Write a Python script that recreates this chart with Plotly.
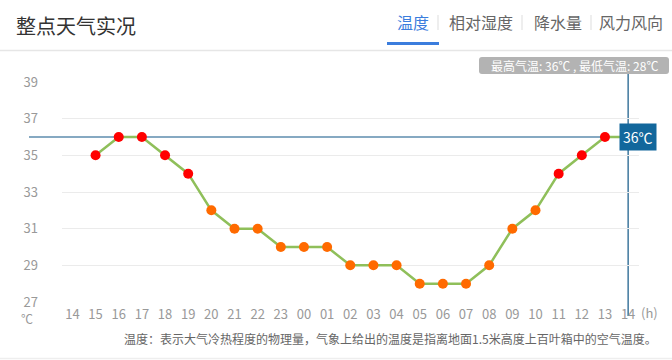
import plotly.graph_objects as go

# ---- data ----
hours = ["14", "15", "16", "17", "18", "19", "20", "21", "22", "23", "00", "01", "02",
         "03", "04", "05", "06", "07", "08", "09", "10", "11", "12", "13", "14"]
temps = [None, 35, 36, 36, 35, 34, 32, 31, 31, 30, 30, 30, 29,
         29, 29, 28, 28, 28, 29, 31, 32, 34, 35, 36, 36]
y_ticks = [27, 29, 31, 33, 35, 37, 39]
hover_index = 24
hover_temp = 36
max_temp, min_temp = 36, 28

W, H = 672, 360
L, R, T, B = 62, 33, 82, 58
PW, PH = W - L - R, H - T - B

def px(x):
    return (x - L) / PW

def py(y):
    return (H - B - y) / PH

FONT = "Noto Sans CJK SC, Microsoft YaHei, sans-serif"
x_idx = list(range(len(hours)))
colors = ["#ff0000" if (t is not None and t >= 33) else "#ff6a00" for t in temps]

fig = go.Figure()
fig.add_trace(go.Scatter(
    x=x_idx, y=temps, mode="lines+markers",
    line=dict(color="#8fbf5a", width=2.5),
    marker=dict(size=10, color=colors),
    cliponaxis=False, hoverinfo="skip", showlegend=False,
))

shapes = []
# header separator line
shapes.append(dict(type="line", xref="paper", yref="paper", x0=px(0), x1=px(W),
                   y0=py(50.5), y1=py(50.5), line=dict(color="#e6e6e6", width=1.5)))
# bottom line
shapes.append(dict(type="line", xref="paper", yref="paper", x0=px(0), x1=px(W),
                   y0=py(358.5), y1=py(358.5), line=dict(color="#eeeeee", width=1.5)))
# tab underline
shapes.append(dict(type="rect", xref="paper", yref="paper", x0=px(387), x1=px(439),
                   y0=py(45), y1=py(42), fillcolor="#3b7ddd", line=dict(width=0)))
# tab separators
for sx in [438, 522, 591]:
    shapes.append(dict(type="line", xref="paper", yref="paper", x0=px(sx), x1=px(sx),
                       y0=py(15), y1=py(30), line=dict(color="#dddddd", width=1)))
# rounded gray box for max/min
bx0, bx1, by0, by1, r = 479, 669, 57, 74, 3
path = (f"M {px(bx0 + r)} {py(by0)} L {px(bx1 - r)} {py(by0)} "
        f"Q {px(bx1)} {py(by0)} {px(bx1)} {py(by0 + r)} "
        f"L {px(bx1)} {py(by1 - r)} Q {px(bx1)} {py(by1)} {px(bx1 - r)} {py(by1)} "
        f"L {px(bx0 + r)} {py(by1)} Q {px(bx0)} {py(by1)} {px(bx0)} {py(by1 - r)} "
        f"L {px(bx0)} {py(by0 + r)} Q {px(bx0)} {py(by0)} {px(bx0 + r)} {py(by0)} Z")
shapes.append(dict(type="path", xref="paper", yref="paper", path=path,
                   fillcolor="#b3b3b3", line=dict(width=0)))
# crosshair (drawn beneath the series)
shapes.append(dict(type="line", xref="x", yref="paper", x0=hover_index, x1=hover_index,
                   y0=py(74), y1=py(316), layer="below",
                   line=dict(color="#0f5585", width=1.2)))
shapes.append(dict(type="line", xref="paper", yref="y", x0=px(29), x1=px(620),
                   y0=hover_temp, y1=hover_temp, layer="below",
                   line=dict(color="#0f5585", width=1.2)))

annotations = []
annotations.append(dict(text="整点天气实况", xref="paper", yref="paper", x=px(14), y=py(25),
                        xanchor="left", yanchor="middle", showarrow=False,
                        font=dict(family=FONT, size=20, color="#333333")))
for txt, cx, col in [("温度", 413, "#3b7ddd"), ("相对湿度", 480.5, "#666666"),
                     ("降水量", 557.5, "#666666"), ("风力风向", 631, "#666666")]:
    annotations.append(dict(text=txt, xref="paper", yref="paper", x=px(cx), y=py(21.5),
                            xanchor="center", yanchor="middle", showarrow=False,
                            font=dict(family=FONT, size=16, color=col)))
annotations.append(dict(text=f"最高气温: {max_temp}℃ , 最低气温: {min_temp}℃",
                        xref="paper", yref="paper", x=px((bx0 + bx1) / 2), y=py(65.5),
                        xanchor="center", yanchor="middle", showarrow=False,
                        font=dict(family=FONT, size=12, color="#ffffff")))
annotations.append(dict(text=f"{hover_temp}℃", xref="paper", yref="y", x=px(619), y=hover_temp,
                        xanchor="left", yanchor="middle", showarrow=False,
                        bgcolor="#12679c", borderpad=3,
                        font=dict(family=FONT, size=14, color="#ffffff")))
annotations.append(dict(text="℃", xref="paper", yref="paper", x=px(27), y=py(318),
                        xanchor="center", yanchor="middle", showarrow=False,
                        font=dict(family=FONT, size=12, color="#999999")))
annotations.append(dict(text="(h)", xref="paper", yref="paper", x=px(649), y=py(312),
                        xanchor="center", yanchor="middle", showarrow=False,
                        font=dict(family=FONT, size=13, color="#999999")))
annotations.append(dict(text="温度：表示大气冷热程度的物理量，气象上给出的温度是指离地面1.5米高度上百叶箱中的空气温度。",
                        xref="paper", yref="paper", x=px(390), y=py(338),
                        xanchor="center", yanchor="middle", showarrow=False,
                        font=dict(family=FONT, size=12, color="#666666")))

fig.update_layout(
    width=W, height=H, margin=dict(l=L, r=R, t=T, b=B),
    paper_bgcolor="#ffffff", plot_bgcolor="#ffffff",
    font=dict(family=FONT, size=13, color="#999999"),
    shapes=shapes, annotations=annotations, showlegend=False,
    xaxis=dict(range=[-0.45, 24.47], tickmode="array", tickvals=x_idx, ticktext=hours,
               showgrid=False, zeroline=False, showline=False, ticks="",
               ticklabelstandoff=3, tickfont=dict(family=FONT, size=13, color="#999999"),
               fixedrange=True),
    yaxis=dict(range=[27, 39], tickmode="array", tickvals=y_ticks,
               ticktext=[str(v) for v in y_ticks], showgrid=True, gridcolor="#ebebeb",
               gridwidth=1, zeroline=False, showline=False, ticks="",
               ticklabelstandoff=23, tickfont=dict(family=FONT, size=13, color="#999999"),
               fixedrange=True),
)

fig.write_html("out.html", config={"displayModeBar": False})
